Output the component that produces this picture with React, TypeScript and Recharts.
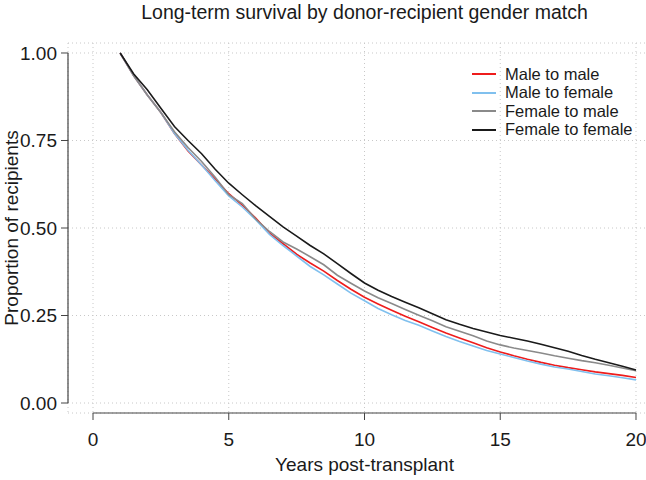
import React from 'react';
import { LineChart, Line, XAxis, YAxis, CartesianGrid, Legend, ReferenceLine } from 'recharts';

// years post-transplant
const years = [1, 1.5, 2, 2.5, 3, 3.5, 4, 4.5, 5, 5.5, 6, 6.5, 7, 7.5, 8, 8.5, 9, 9.5, 10, 10.5, 11, 11.5, 12, 12.5, 13, 13.5, 14, 14.5, 15, 15.5, 16, 16.5, 17, 17.5, 18, 18.5, 19, 19.5, 20];

const maleToMale = [1.0, 0.935, 0.88, 0.83, 0.77, 0.72, 0.68, 0.64, 0.598, 0.565, 0.528, 0.485, 0.455, 0.425, 0.4, 0.377, 0.35, 0.325, 0.302, 0.283, 0.265, 0.248, 0.232, 0.216, 0.2, 0.186, 0.172, 0.158, 0.146, 0.135, 0.125, 0.116, 0.108, 0.101, 0.095, 0.089, 0.084, 0.079, 0.073];
const maleToFemale = [1.0, 0.935, 0.88, 0.83, 0.77, 0.722, 0.68, 0.635, 0.592, 0.56, 0.523, 0.482, 0.45, 0.42, 0.39, 0.366, 0.34, 0.314, 0.292, 0.27, 0.252, 0.236, 0.222, 0.206, 0.19, 0.176, 0.163, 0.15, 0.14, 0.13, 0.12, 0.111, 0.103, 0.097, 0.09, 0.083, 0.078, 0.072, 0.066];
const femaleToMale = [1.0, 0.935, 0.88, 0.83, 0.775, 0.73, 0.69, 0.645, 0.595, 0.57, 0.525, 0.49, 0.46, 0.44, 0.418, 0.395, 0.365, 0.342, 0.32, 0.301, 0.284, 0.267, 0.251, 0.235, 0.218, 0.205, 0.192, 0.177, 0.166, 0.157, 0.15, 0.143, 0.135, 0.128, 0.121, 0.115, 0.108, 0.1, 0.092];
const femaleToFemale = [1.0, 0.94, 0.895, 0.842, 0.79, 0.75, 0.712, 0.668, 0.628, 0.595, 0.563, 0.533, 0.503, 0.477, 0.45, 0.426, 0.398, 0.37, 0.343, 0.322, 0.304, 0.288, 0.272, 0.255, 0.238, 0.225, 0.213, 0.203, 0.193, 0.185, 0.177, 0.168, 0.158, 0.148, 0.136, 0.125, 0.115, 0.105, 0.094];

const xTicks = [0, 5, 10, 15, 20];
const yTicks = [0, 0.25, 0.5, 0.75, 1];

const series = [
  { key: 'mm', name: 'Male to male', color: '#ee1c1c' },
  { key: 'mf', name: 'Male to female', color: '#80c0ee' },
  { key: 'fm', name: 'Female to male', color: '#8a8a8a' },
  { key: 'ff', name: 'Female to female', color: '#1a1a1a' },
];

const data = years.map((year, i) => ({
  year,
  mm: maleToMale[i],
  mf: maleToFemale[i],
  fm: femaleToMale[i],
  ff: femaleToFemale[i],
}));

// R-style padding round the data range
const X_MIN = -0.921;
const X_MAX = 20.921;
const Y_MIN = -0.02857;
const Y_MAX = 1.02857;

const FONT = '"Liberation Sans", Arial, Helvetica, sans-serif';
const AXIS = '#444';
const TEXT = '#1a1a1a';

const renderLegend = () => (
  <div style={{ fontFamily: FONT, fontSize: 16.5, color: TEXT }}>
    {series.map(s => (
      <div key={s.key} style={{ display: 'flex', alignItems: 'center', height: 18.5 }}>
        <div style={{ width: 24, height: 0, borderTop: `2px solid ${s.color}`, marginRight: 9 }} />
        <span>{s.name}</span>
      </div>
    ))}
  </div>
);

export default function App() {
  return (
    <div style={{ position: 'absolute', left: 0, top: 0, width: 646, height: 480, overflow: 'hidden', background: '#fff' }}>
      <svg width={646} height={30} style={{ position: 'absolute', left: 0, top: 0, zIndex: 2 }}>
        <text x={364.5} y={19} textAnchor="middle" fontFamily={FONT} fontSize={19.5} fill={TEXT}>
          Long-term survival by donor-recipient gender match
        </text>
      </svg>
      <LineChart width={680} height={480} data={data} margin={{ top: 43, right: 19, bottom: 0, left: 0 }}>
        <CartesianGrid stroke="#c8c8c8" strokeDasharray="1 3" />
        <XAxis
          dataKey="year"
          type="number"
          domain={[X_MIN, X_MAX]}
          ticks={xTicks}
          height={67}
          axisLine={false}
          tickLine={{ stroke: AXIS }}
          tickSize={7}
          tickMargin={13}
          tick={{ fill: TEXT, fontSize: 19, fontFamily: FONT }}
          label={{ value: 'Years post-transplant', position: 'insideBottom', offset: 9, fill: TEXT, fontSize: 19, fontFamily: FONT }}
        />
        <YAxis
          type="number"
          domain={[Y_MIN, Y_MAX]}
          ticks={yTicks}
          width={68}
          axisLine={false}
          tickLine={{ stroke: AXIS }}
          tickSize={7}
          tickMargin={4}
          tickFormatter={(v: number) => v.toFixed(2)}
          tick={{ fill: TEXT, fontSize: 19, fontFamily: FONT }}
          label={{ value: 'Proportion of recipients', angle: -90, position: 'insideLeft', offset: 11, fill: TEXT, fontSize: 19, fontFamily: FONT, style: { textAnchor: 'middle' } }}
        />
        <ReferenceLine segment={[{ x: 0, y: Y_MIN }, { x: 20, y: Y_MIN }]} stroke={AXIS} strokeWidth={1.2} ifOverflow="visible" />
        <ReferenceLine segment={[{ x: X_MIN, y: 0 }, { x: X_MIN, y: 1 }]} stroke={AXIS} strokeWidth={1.2} ifOverflow="visible" />
        <Legend layout="vertical" verticalAlign="middle" align="center" content={renderLegend} wrapperStyle={{ left: 472, top: 65, width: 'auto' }} />
        {series.map(s => (
          <Line
            key={s.key}
            dataKey={s.key}
            name={s.name}
            stroke={s.color}
            strokeWidth={1.6}
            dot={false}
            type="linear"
            isAnimationActive={false}
          />
        ))}
      </LineChart>
    </div>
  );
}
